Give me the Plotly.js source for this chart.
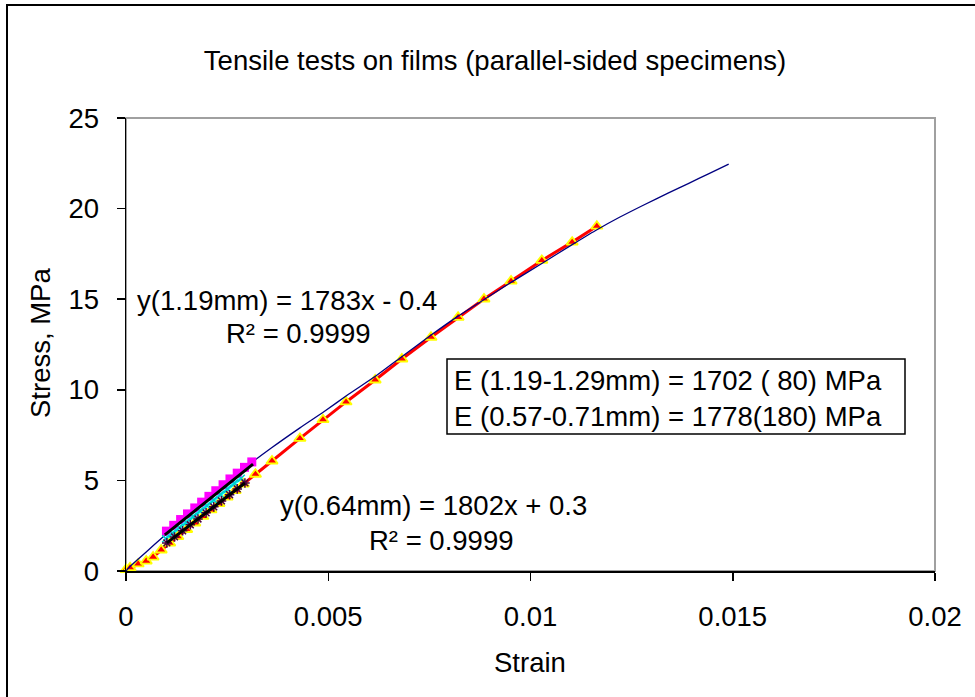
<!DOCTYPE html>
<html>
<head>
<meta charset="utf-8">
<script src="https://cdn.plot.ly/plotly-3.0.1.min.js"></script>
<style>html,body{margin:0;padding:0;background:#fff;}#chart{width:975px;height:697px;}</style>
</head>
<body>
<div id="chart"></div>
<script>
// ---- data ----
const blueX = [0, 0.0001, 0.0005, 0.0009, 0.0015, 0.002, 0.0025, 0.003, 0.0036, 0.0043, 0.0049, 0.0055, 0.0062, 0.0068, 0.0075, 0.0082, 0.0089, 0.0095, 0.0103, 0.011, 0.0116, 0.0122, 0.0128, 0.0134, 0.0139, 0.0144, 0.0149];
const blueY = [0, 0.25, 1.05, 1.85, 3.0, 3.95, 4.9, 5.8, 6.8, 7.9, 8.8, 9.75, 10.8, 11.8, 12.95, 14.05, 15.05, 15.9, 17.0, 17.97, 18.78, 19.52, 20.2, 20.85, 21.38, 21.92, 22.45];

const redX = [0, 0.0001, 0.0003, 0.0005, 0.00067, 0.00087, 0.00108, 0.00128, 0.0015, 0.0017, 0.0019, 0.0021, 0.0023, 0.0025, 0.0027, 0.0029, 0.0032, 0.00361, 0.0043, 0.00487, 0.00544, 0.00616, 0.00682, 0.00754, 0.00821, 0.00885, 0.00952, 0.01028, 0.01103, 0.01164];
const redY = [0.08, 0.18, 0.39, 0.55, 0.77, 1.16, 1.54, 1.9, 2.29, 2.65, 3.01, 3.37, 3.72, 4.08, 4.44, 4.8, 5.34, 6.07, 7.32, 8.35, 9.33, 10.54, 11.7, 12.9, 14.0, 15.01, 16.0, 17.14, 18.15, 19.03];

const magX = [0.00100, 0.00118, 0.00135, 0.00152, 0.00170, 0.00187, 0.00205, 0.00222, 0.00240, 0.00257, 0.00275, 0.00293, 0.00311];
const magY = [2.2, 2.52, 2.84, 3.15, 3.48, 3.8, 4.12, 4.43, 4.76, 5.08, 5.4, 5.72, 6.02];

const cyanX = [0.00098, 0.00115, 0.00132, 0.00149, 0.00166, 0.00183, 0.00200, 0.00217, 0.00234, 0.00251, 0.00268, 0.00285];
const cyanY = [1.78, 2.08, 2.4, 2.69, 3.0, 3.31, 3.6, 3.92, 4.22, 4.52, 4.84, 5.12];

const starX = [0.00101, 0.00120, 0.00140, 0.00159, 0.00178, 0.00198, 0.00217, 0.00236, 0.00256, 0.00275, 0.00294];
const starY = [1.55, 1.88, 2.22, 2.55, 2.87, 3.21, 3.54, 3.87, 4.21, 4.53, 4.86];

const fitUpperX = [0.00096, 0.00314];
const fitUpperY = [1.99, 5.9];
const fitLowerX = [0.00101, 0.00294];
const fitLowerY = [1.55, 4.86];

const xTickVals = [0, 0.005, 0.01, 0.015, 0.02];
const xTickText = ['0', '0.005', '0.01', '0.015', '0.02'];
const yTickVals = [0, 5, 10, 15, 20, 25];
const yTickText = ['0', '5', '10', '15', '20', '25'];

const titleText = 'Tensile tests on films (parallel-sided specimens)';
const xTitle = 'Strain';
const yTitle = 'Stress, MPa';
const eq1 = 'y(1.19mm) = 1783x - 0.4';
const r1 = 'R² = 0.9999';
const eq2 = 'y(0.64mm) = 1802x + 0.3';
const r2 = 'R² = 0.9999';
const boxLine1 = 'E (1.19-1.29mm) = 1702 ( 80) MPa';
const boxLine2 = 'E (0.57-0.71mm) = 1778(180) MPa';

// ---- layout helpers (pixel -> paper) ----
const L = 126, R = 935, T = 118, B = 571, W = 975, H = 697;
const px = p => (p - L) / (R - L);
const py = p => (B - p) / (B - T);
const FONT = 'Liberation Sans, Arial, sans-serif';
const FS = 27.5;

const traces = [
  {x: redX, y: redY, mode: 'lines+markers', cliponaxis: false,
   line: {color: '#FF0000', width: 3},
   marker: {symbol: 'triangle-up', size: 10, color: '#FF0000', line: {color: '#FFFF00', width: 1.8}}},
  {x: blueX, y: blueY, mode: 'lines', line: {color: '#000080', width: 1.3, shape: 'spline', smoothing: 0.6}},
  {x: magX, y: magY, mode: 'markers',
   marker: {symbol: 'square', size: 9, color: '#FF00FF', line: {width: 0}}},
  {x: cyanX, y: cyanY, mode: 'lines+markers', line: {color: '#00FFFF', width: 3},
   marker: {symbol: 'x-thin-open', size: 7, color: '#00CCCC', line: {color: '#00CCCC', width: 1.5}}},
  {x: starX, y: starY, mode: 'markers',
   marker: {symbol: 'asterisk-open', size: 8, color: '#4B0040', line: {color: '#4B0040', width: 1.5}}},
  {x: fitUpperX, y: fitUpperY, mode: 'lines', line: {color: '#000000', width: 3}},
  {x: fitLowerX, y: fitLowerY, mode: 'lines', line: {color: '#000000', width: 3}}
];

const ann = (text, x, y, opts) => Object.assign({
  text: text, xref: 'paper', yref: 'paper', x: px(x), y: py(y),
  xanchor: 'center', yanchor: 'middle', showarrow: false,
  font: {family: FONT, size: FS, color: '#000'}
}, opts || {});

const layout = {
  width: W, height: H,
  margin: {l: L, r: W - R, t: T, b: H - B, pad: 0},
  paper_bgcolor: '#FFFFFF', plot_bgcolor: '#FFFFFF',
  showlegend: false,
  font: {family: FONT, size: FS, color: '#000'},
  title: {text: titleText, x: 495 / W, xref: 'container', xanchor: 'center',
          y: 1 - 60 / H, yref: 'container', yanchor: 'middle',
          font: {family: FONT, size: FS, color: '#000'}},
  xaxis: {range: [0, 0.02], tickvals: xTickVals, ticktext: xTickText,
          showgrid: false, zeroline: false, showline: true, linecolor: '#000', linewidth: 1.5,
          ticks: 'outside', ticklen: 8, tickwidth: 1.5, tickcolor: '#000',
          ticklabelstandoff: 12,
          tickfont: {family: FONT, size: FS, color: '#000'}},
  yaxis: {range: [0, 25], tickvals: yTickVals, ticktext: yTickText,
          showgrid: false, zeroline: false, showline: true, linecolor: '#000', linewidth: 1.5,
          ticks: 'outside', ticklen: 8, tickwidth: 1.5, tickcolor: '#000',
          ticklabelstandoff: 12,
          tickfont: {family: FONT, size: FS, color: '#000'}},
  shapes: [
    {type: 'rect', xref: 'paper', yref: 'paper', x0: 0, x1: 1, y0: 0, y1: 1,
     line: {color: '#A0A0A0', width: 2}, layer: 'below'},
    {type: 'line', xref: 'paper', yref: 'paper', x0: px(7), x1: px(7), y0: py(4), y1: py(700),
     line: {color: '#000', width: 2}},
    {type: 'line', xref: 'paper', yref: 'paper', x0: px(6), x1: px(980), y0: py(5), y1: py(5),
     line: {color: '#000', width: 2}},
    {type: 'rect', xref: 'paper', yref: 'paper', x0: px(447), x1: px(905), y0: py(434), y1: py(359),
     line: {color: '#000', width: 1.5}, fillcolor: 'rgba(255,255,255,0)'}
  ],
  annotations: [
    ann(xTitle, 530, 662),
    ann(yTitle, 40, 343, {textangle: -90}),
    ann(eq1, 287, 300),
    ann(r1, 298, 333),
    ann(eq2, 433, 505),
    ann(r2, 441, 540),
    ann(boxLine1, 452, 380, {xanchor: 'left'}),
    ann(boxLine2, 452, 416, {xanchor: 'left'})
  ]
};

Plotly.newPlot('chart', traces, layout, {displayModeBar: false, staticPlot: true});
</script>
</body>
</html>
